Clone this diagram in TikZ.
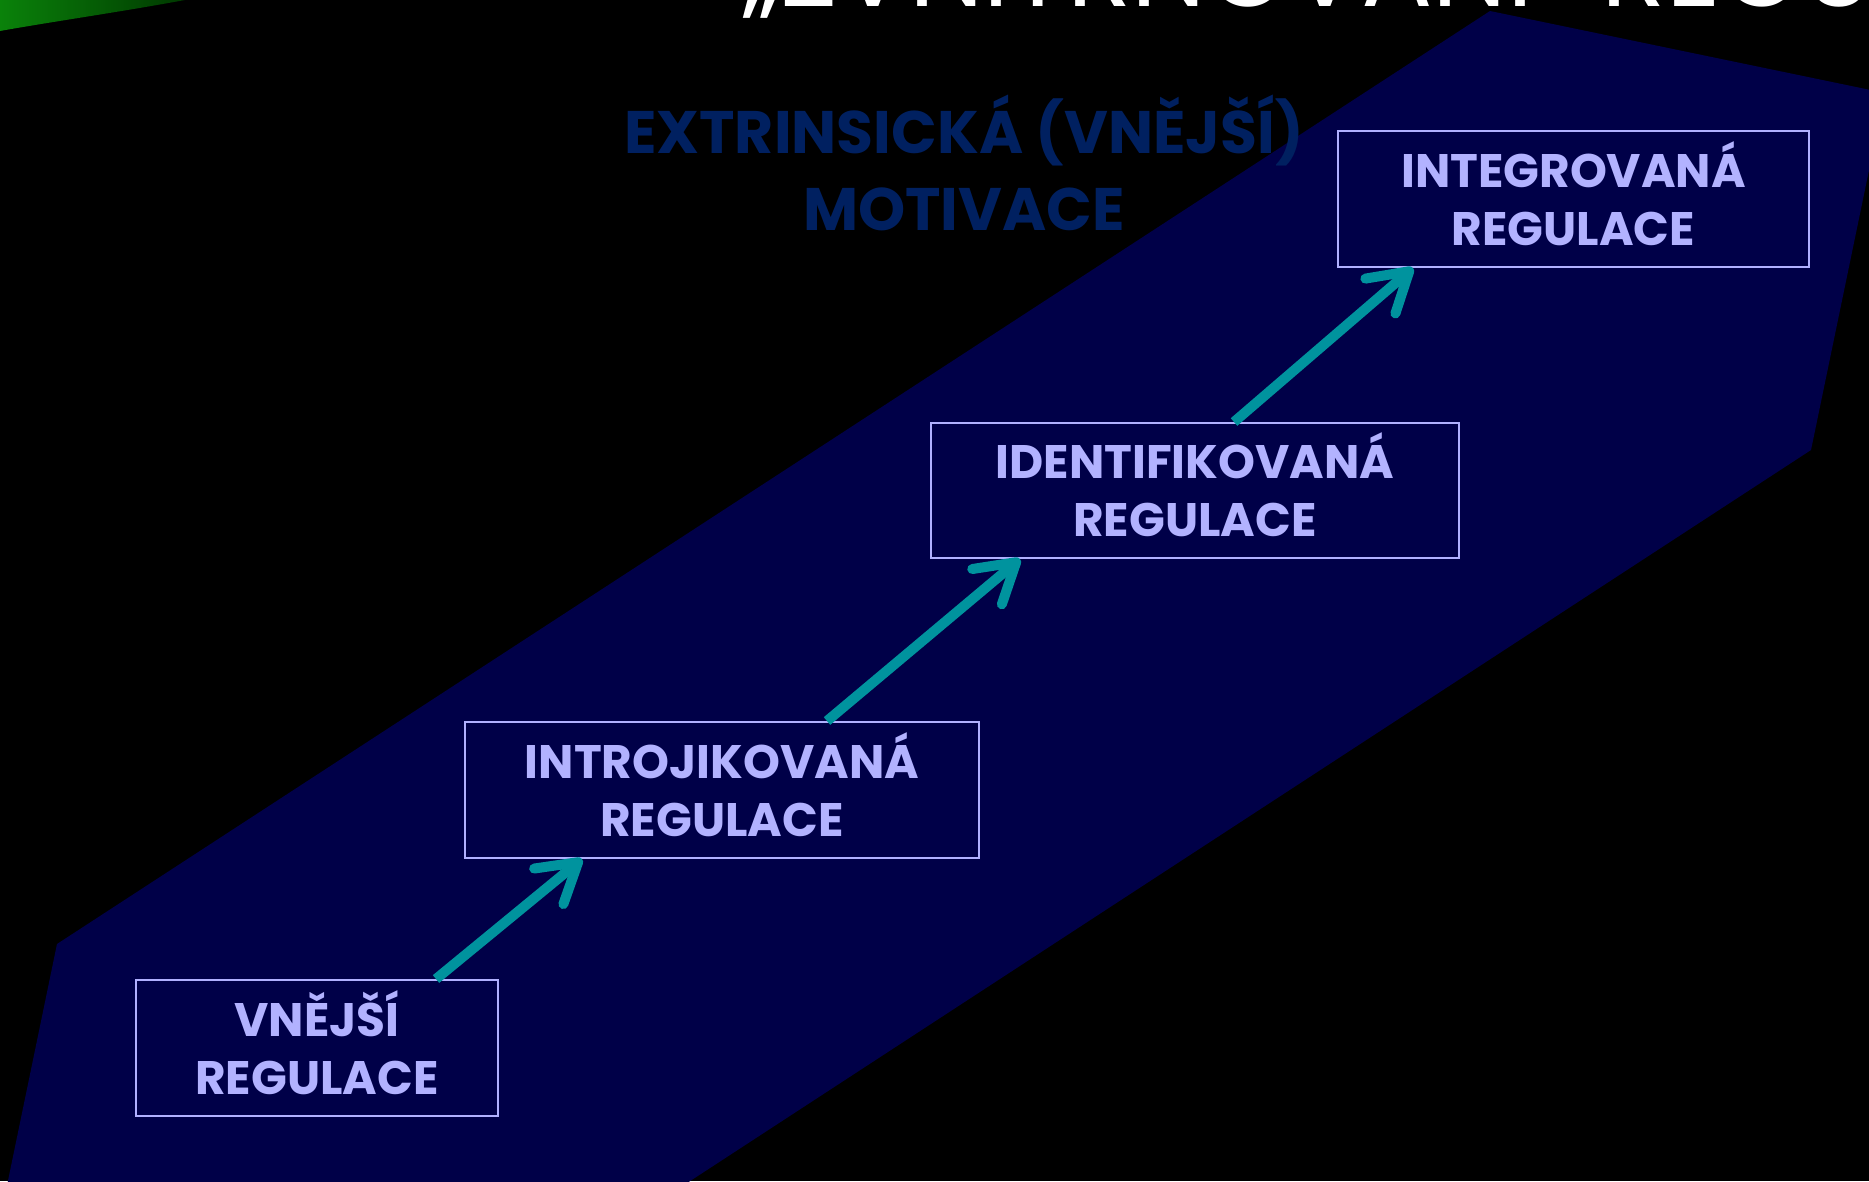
\documentclass[tikz,border=0pt]{standalone}
\usepackage{fontspec}
\setmainfont{Poppins}
\usetikzlibrary{arrows.meta}
\definecolor{polyblue}{RGB}{0,0,72}
\definecolor{boxline}{RGB}{176,176,255}
\definecolor{boxtext}{RGB}{178,178,255}
\definecolor{subblue}{RGB}{0,32,96}
\definecolor{tealarrow}{RGB}{0,147,158}
\definecolor{swooshA}{RGB}{10,130,10}
\definecolor{swooshB}{RGB}{0,55,0}
\tikzset{
  stagebox/.style={draw=boxline, line width=2pt, fill=polyblue, inner sep=0pt,
    text=boxtext, align=center, font=\fontsize{47}{58}\selectfont\bfseries,
    text height=92pt, text depth=0pt},
  stagearrow/.style={draw=tealarrow, line width=10pt,
    -{Straight Barb[round, length=38pt, width=46pt]}},
}
\begin{document}
\begin{tikzpicture}[x=1pt,y=-1pt]
\fill[black] (0,0) rectangle (1869,1181);
\useasboundingbox (0,0) rectangle (1869,1181);
% green swoosh
\shade[left color=swooshA, right color=swooshB]
  (0,-5) -- (190,-5) -- (185,0) .. controls (120,12) and (50,22) .. (0,31) -- cycle;
% big band
\fill[polyblue] (1490,11) -- (1885,93) -- (1811,450) -- (661,1200) -- (4,1200) -- (57,944) -- cycle;
% partial white title
\node[anchor=base west, inner sep=0pt, text=white, font=\fontsize{106}{106}\selectfont]
  (title) at (743,6) {„ZVNITŘŇOVÁNÍ“ REGULACE};
% subtitle
\node[anchor=base, inner sep=0pt, text=subblue, align=center,
  font=\fontsize{60}{77}\selectfont\bfseries]
  (sub) at (964,230) {EXTRINSICKÁ (VNĚJŠÍ)\\MOTIVACE};
% boxes
\node[stagebox, minimum width=362pt, minimum height=136pt] (b1) at (317,1048) {VNĚJŠÍ\\REGULACE};
\node[stagebox, minimum width=514pt, minimum height=136pt] (b2) at (722,790) {INTROJIKOVANÁ\\REGULACE};
\node[stagebox, minimum width=528pt, minimum height=135pt] (b3) at (1195,490.5) {IDENTIFIKOVANÁ\\REGULACE};
\node[stagebox, minimum width=471pt, minimum height=136pt] (b4) at (1573.5,199) {INTEGROVANÁ\\REGULACE};
% arrows
\draw[stagearrow] ([xshift=119pt]b1.north) -- ([xshift=-140pt]b2.south);
\draw[stagearrow] ([xshift=105pt]b2.north) -- ([xshift=-175pt]b3.south);
\draw[stagearrow] ([xshift=39pt]b3.north) -- ([xshift=-160.5pt]b4.south);
\end{tikzpicture}
\end{document}
